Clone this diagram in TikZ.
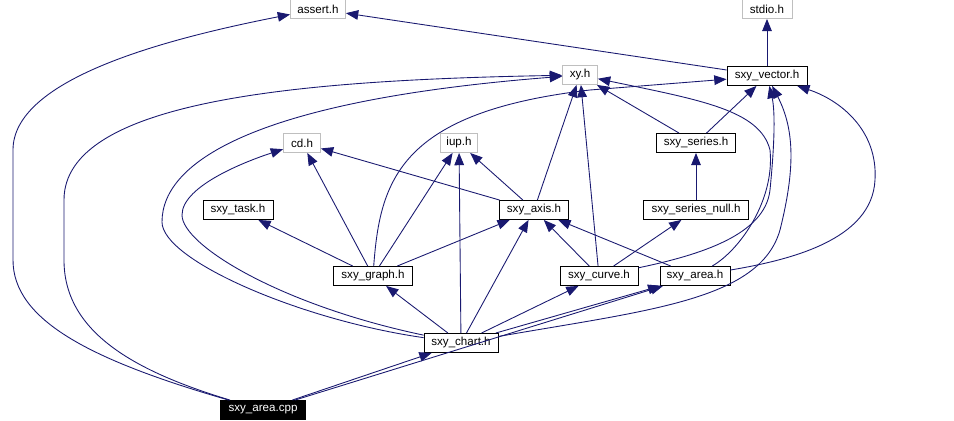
\documentclass[tikz,border=0pt]{standalone}
\usepackage{fontspec}
\setmainfont{Liberation Sans}
\usetikzlibrary{arrows.meta}
\definecolor{edgec}{HTML}{191970}
\definecolor{greyc}{HTML}{BFBFBF}
\tikzset{
 x=0.02cm,y=-0.02cm,
 box/.style={draw=black,fill=white,inner sep=0pt,minimum height=0.38cm,font=\fontsize{6.6}{8}\selectfont,line width=0.5pt},
 gbox/.style={box,draw=greyc},
 cbox/.style={box,fill=black,text=white},
 e/.style={draw=edgec,line width=0.5pt,-{Triangle[width=5.5pt,length=7pt]}}
}
\begin{document}
\begin{tikzpicture}
\useasboundingbox (0,0) rectangle (954,421);
\node[gbox,minimum width=1.1cm] (assert) at (318,9) {assert.h};
\node[gbox,minimum width=1.0cm] (stdio) at (767,9) {stdio.h};
\node[gbox,minimum width=0.7cm] (xy) at (580,75) {xy.h};
\node[box,minimum width=1.6cm] (vector) at (767,76) {sxy\_vector.h};
\node[gbox,minimum width=0.74cm] (cd) at (302,143) {cd.h};
\node[gbox,minimum width=0.74cm] (iup) at (459,143) {iup.h};
\node[box,minimum width=1.58cm] (series) at (696,143) {sxy\_series.h};
\node[box,minimum width=1.4cm] (task) at (238,210) {sxy\_task.h};
\node[box,minimum width=1.38cm] (axis) at (534,210) {sxy\_axis.h};
\node[box,minimum width=2.1cm] (snull) at (696,210) {sxy\_series\_null.h};
\node[box,minimum width=1.58cm] (graph) at (373,276) {sxy\_graph.h};
\node[box,minimum width=1.56cm] (curve) at (599,276) {sxy\_curve.h};
\node[box,minimum width=1.4cm] (area) at (695,276) {sxy\_area.h};
\node[box,minimum width=1.48cm] (chart) at (461,343) {sxy\_chart.h};
\node[cbox,minimum width=1.7cm] (cpp) at (263,410) {sxy\_area.cpp};

\draw[e] (vector) -- (stdio);
\draw[e] (vector) -- (assert);
\draw[e] (cpp) .. controls (90,360) and (13,320) .. (13,260) -- (13,150) .. controls (13,80) and (160,40) .. (assert);
\draw[e] (cpp) .. controls (130,370) and (64,330) .. (64,260) -- (64,200) .. controls (64,100) and (300,80) .. (xy);
\draw[e] (cpp) -- (chart);
\draw[e] (cpp) -- (area);
\draw[e] (chart) .. controls (300,320) and (162,260) .. (162,222) .. controls (162,160) and (260,100) .. (xy);
\draw[e] (chart) .. controls (280,305) and (182,245) .. (182,215) .. controls (182,185) and (250,160) .. (cd);
\draw[e] (chart) -- (iup);
\draw[e] (chart) -- (graph);
\draw[e] (chart) -- (axis);
\draw[e] (chart) -- (curve);
\draw[e] (chart) -- (area);
\draw[e] (chart) .. controls (650,310) and (760,300) .. (780,230) .. controls (795,170) and (795,130) .. (vector);
\draw[e] (graph) -- (task);
\draw[e] (graph) -- (cd);
\draw[e] (graph) -- (iup);
\draw[e] (graph) -- (axis);
\draw[e] (graph) .. controls (380,180) and (400,112) .. (590,90) -- (vector);
\draw[e] (axis) -- (cd);
\draw[e] (axis) -- (iup);
\draw[e] (axis) -- (xy);
\draw[e] (curve) -- (xy);
\draw[e] (curve) -- (axis);
\draw[e] (curve) -- (snull);
\draw[e] (curve) .. controls (700,255) and (765,235) .. (770,190) .. controls (775,140) and (775,110) .. (vector);
\draw[e] (area) -- (axis);
\draw[e] (area) .. controls (740,250) and (775,200) .. (770,150) .. controls (760,110) and (700,100) .. (xy);
\draw[e] (area) .. controls (790,260) and (872,240) .. (875,180) .. controls (878,130) and (840,100) .. (vector);
\draw[e] (snull) -- (series);
\draw[e] (series) -- (xy);
\draw[e] (series) -- (vector);
\end{tikzpicture}
\end{document}
